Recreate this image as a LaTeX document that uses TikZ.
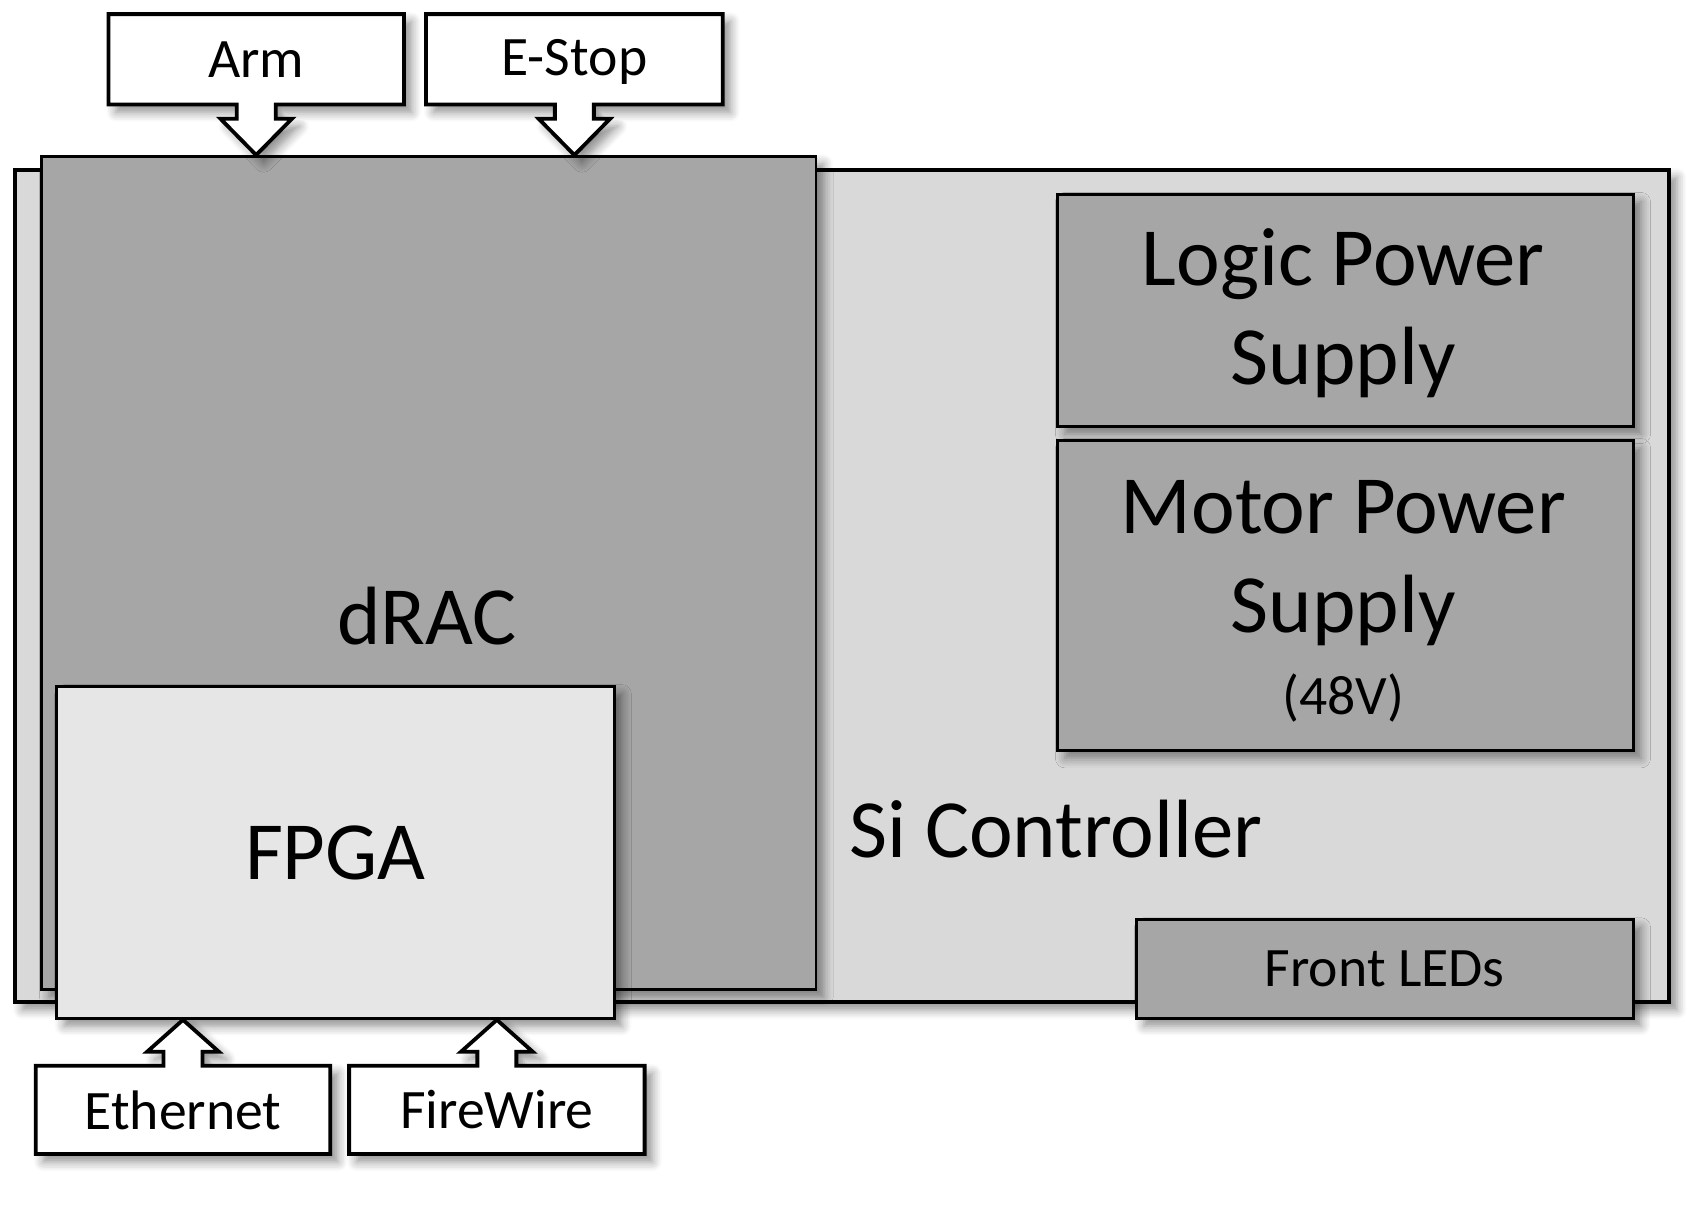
\documentclass[tikz,border=0pt]{standalone}
\usepackage{fontspec}
\setmainfont{Carlito}
\usetikzlibrary{calc,shadows.blur}
\definecolor{sigray}{HTML}{D9D9D9}
\definecolor{darkbox}{HTML}{A6A6A6}
\definecolor{fpgagray}{HTML}{E6E6E6}
\tikzset{
  softshadow/.style={blur shadow={shadow xshift=2pt,shadow yshift=-2pt,shadow blur steps=6,shadow blur radius=2.5pt,shadow opacity=45}},
  block/.style={draw=black,line width=0.7pt,softshadow,anchor=north west,inner sep=0pt},
  bigtext/.style={font=\fontsize{21.7}{26}\selectfont,align=center},
  smalltext/.style={font=\fontsize{14.6}{18}\selectfont},
  plugbox/.style={anchor=north west,inner sep=0pt},
  plug/.style={fill=white,draw=black,line width=1pt,line join=miter,softshadow}
}
\begin{document}
\begin{tikzpicture}[x=0.01cm,y=-0.01cm]
\useasboundingbox (0,0) rectangle (1568,1111);

\node[block,fill=sigray,line width=1pt,minimum width=15.25cm,minimum height=7.67cm] (si) at (12,155) {};
\node[bigtext] (silabel) at (974,765) {Si Controller};

\node[block,fill=darkbox,minimum width=7.14cm,minimum height=7.68cm] (drac) at (37,143) {};
\node[bigtext] (draclabel) at (394,568) {dRAC};
\node[block,fill=fpgagray,minimum width=5.14cm,minimum height=3.06cm,bigtext] (fpga) at (51,632) {FPGA};

\node[block,fill=darkbox,minimum width=5.31cm,minimum height=2.14cm] (logic) at (974,178) {};
\node[bigtext] (logiclabel) at (1239,289) {Logic Power\\Supply};
\node[block,fill=darkbox,minimum width=5.31cm,minimum height=2.86cm] (motor) at (974,405) {};
\node[bigtext] (motorlabel) at (1239,519) {Motor Power\\Supply};
\node[smalltext] (voltlabel) at (1239,644) {(48V)};
\node[block,fill=darkbox,minimum width=4.58cm,minimum height=0.91cm,smalltext] (leds) at (1047,847) {Front LEDs};

% inputs from the top
\node[plugbox,minimum width=2.71cm,minimum height=0.82cm] (armbox) at (100,13) {};
\draw[plug] (armbox.north west) -- (armbox.north east) -- (armbox.south east) -- ($(armbox.south)+(18,0)$) -- ++(0,13) -- ++(15,0)
  -- (armbox.south |- drac.north) -- ($(armbox.south)+(-33,13)$) -- ++(15,0) -- ++(0,-13) -- (armbox.south west) -- cycle;
\node[smalltext] (arm) at (armbox) {Arm};

\node[plugbox,minimum width=2.72cm,minimum height=0.82cm] (estopbox) at (393,13) {};
\draw[plug] (estopbox.north west) -- (estopbox.north east) -- (estopbox.south east) -- ($(estopbox.south)+(18,0)$) -- ++(0,13) -- ++(15,0)
  -- (estopbox.south |- drac.north) -- ($(estopbox.south)+(-33,13)$) -- ++(15,0) -- ++(0,-13) -- (estopbox.south west) -- cycle;
\node[smalltext] (estop) at ($(estopbox)+(0,2)$) {E-Stop};

% inputs from the bottom
\node[plugbox,minimum width=2.70cm,minimum height=0.80cm] (ethbox) at (33,983) {};
\draw[plug] (ethbox.south west) -- (ethbox.north west) -- ($(ethbox.north)+(-18,0)$) -- ++(0,-13) -- ++(-15,0)
  -- (ethbox.north |- fpga.south) -- ($(ethbox.north)+(33,-13)$) -- ++(-15,0) -- ++(0,13) -- (ethbox.north east) -- (ethbox.south east) -- cycle;
\node[smalltext] (eth) at (ethbox) {Ethernet};

\node[plugbox,minimum width=2.71cm,minimum height=0.80cm] (fwbox) at (322,983) {};
\draw[plug] (fwbox.south west) -- (fwbox.north west) -- ($(fwbox.north)+(-18,0)$) -- ++(0,-13) -- ++(-15,0)
  -- (fwbox.north |- fpga.south) -- ($(fwbox.north)+(33,-13)$) -- ++(-15,0) -- ++(0,13) -- (fwbox.north east) -- (fwbox.south east) -- cycle;
\node[smalltext] (fw) at (fwbox) {FireWire};

\end{tikzpicture}
\end{document}
